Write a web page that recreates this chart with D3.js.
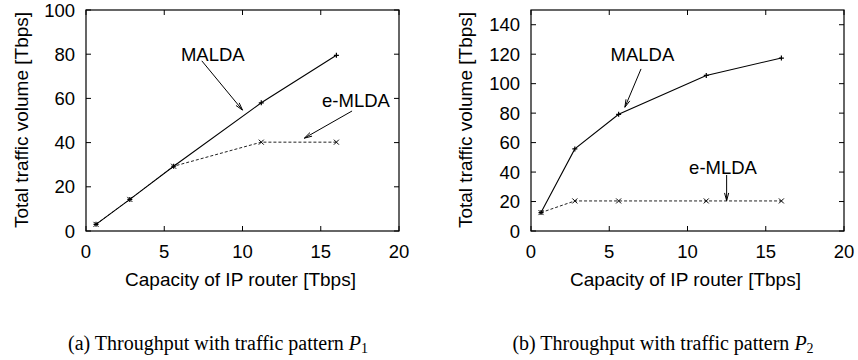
<!DOCTYPE html>
<html>
<head>
<meta charset="utf-8">
<script src="https://cdn.jsdelivr.net/npm/d3@7"></script>
<style>
  body { margin: 0; background: #fff; }
  svg text { font-family: "Liberation Sans", Arial, sans-serif; fill: #000; }
  .caption { font-family: "Liberation Serif", "Times New Roman", serif; }
</style>
</head>
<body>
<svg id="canvas" width="858" height="360"></svg>
<script>
// capacity of IP router [Tbps]
var capacity = [0.64, 2.8, 5.6, 11.2, 16];

// panel (a) traffic pattern P1
var maldaP1 = [3, 14.3, 29.3, 58, 79.5];
var emldaP1 = [3, 14.3, 29.3, 40.2, 40.2];

// panel (b) traffic pattern P2
var maldaP2 = [12.5, 55.7, 79.2, 105.6, 117.4];
var emldaP2 = [12.5, 20.4, 20.4, 20.4, 20.4];

var xTicks = [0, 5, 10, 15, 20];
var yTicksP1 = [0, 20, 40, 60, 80, 100];
var yTicksP2 = [0, 20, 40, 60, 80, 100, 120, 140];

// annotations: label at [x,y], arrow from [x,y] to [x,y] (data units)
var notesP1 = [
  { text: "MALDA",  at: [8.1, 79.8], from: [7.4, 77], to: [10.0, 54.7] },
  { text: "e-MLDA", at: [17.25, 59.3], from: [17.0, 54.3], to: [13.95, 42] }
];
var notesP2 = [
  { text: "MALDA",  at: [7.12, 119.8], from: [7.03, 110], to: [6.0, 84] },
  { text: "e-MLDA", at: [12.27, 43.3], from: [12.5, 38], to: [12.5, 20.6] }
];

var svg = d3.select("#canvas");
var fs = 18.5;

function drawPanel(left, yMax, yTicks, malda, emlda, notes, yTitleX) {
  var x = d3.scaleLinear().domain([0, 20]).range([left, left + 313]);
  var y = d3.scaleLinear().domain([0, yMax]).range([231, 10]);
  var g = svg.append("g");

  // frame
  g.append("rect")
    .attr("x", x(0)).attr("y", y(yMax))
    .attr("width", x(20) - x(0)).attr("height", y(0) - y(yMax))
    .attr("fill", "none").attr("stroke", "#000").attr("stroke-width", 1.2);

  // inward ticks, all four sides
  var tl = 5;
  xTicks.forEach(function(t) {
    g.append("line").attr("x1", x(t)).attr("x2", x(t)).attr("y1", y(0)).attr("y2", y(0) - tl).attr("stroke", "#000");
    g.append("line").attr("x1", x(t)).attr("x2", x(t)).attr("y1", y(yMax)).attr("y2", y(yMax) + tl).attr("stroke", "#000");
    g.append("text").attr("x", x(t)).attr("y", y(0) + 27)
      .attr("text-anchor", "middle").attr("font-size", fs).text(t);
  });
  yTicks.forEach(function(t) {
    g.append("line").attr("x1", x(0)).attr("x2", x(0) + tl).attr("y1", y(t)).attr("y2", y(t)).attr("stroke", "#000");
    g.append("line").attr("x1", x(20)).attr("x2", x(20) - tl).attr("y1", y(t)).attr("y2", y(t)).attr("stroke", "#000");
    g.append("text").attr("x", x(0) - 11).attr("y", y(t)).attr("dy", "0.36em")
      .attr("text-anchor", "end").attr("font-size", fs).text(t);
  });

  // axis titles
  g.append("text").attr("x", x(10) - 2).attr("y", 286)
    .attr("text-anchor", "middle").attr("font-size", 19).text("Capacity of IP router [Tbps]");
  g.append("text").attr("transform", "translate(" + yTitleX + ",120) rotate(-90)")
    .attr("text-anchor", "middle").attr("font-size", 19).text("Total traffic volume [Tbps]");

  var line = d3.line().x(function(d) { return x(d[0]); }).y(function(d) { return y(d[1]); });
  var ptsM = capacity.map(function(c, i) { return [c, malda[i]]; });
  var ptsE = capacity.map(function(c, i) { return [c, emlda[i]]; });

  g.append("path").attr("d", line(ptsE)).attr("fill", "none")
    .attr("stroke", "#222").attr("stroke-width", 1).attr("stroke-dasharray", "3,2");
  g.append("path").attr("d", line(ptsM)).attr("fill", "none")
    .attr("stroke", "#000").attr("stroke-width", 1.1);

  // point markers: + for MALDA, x for e-MLDA
  var s = 2.5;
  ptsM.forEach(function(p) {
    var px = x(p[0]), py = y(p[1]);
    g.append("path").attr("d", "M" + (px - s) + "," + py + "H" + (px + s) + "M" + px + "," + (py - s) + "V" + (py + s))
      .attr("stroke", "#000").attr("stroke-width", 1.2);
  });
  ptsE.forEach(function(p) {
    var px = x(p[0]), py = y(p[1]);
    g.append("path").attr("d", "M" + (px - s) + "," + (py - s) + "L" + (px + s) + "," + (py + s) +
        "M" + (px - s) + "," + (py + s) + "L" + (px + s) + "," + (py - s))
      .attr("stroke", "#000").attr("stroke-width", 1);
  });

  // labels with gnuplot style open arrows
  notes.forEach(function(n) {
    g.append("text").attr("x", x(n.at[0])).attr("y", y(n.at[1])).attr("dy", "0.36em")
      .attr("text-anchor", "middle").attr("font-size", fs).text(n.text);
    var x1 = x(n.from[0]), y1 = y(n.from[1]), x2 = x(n.to[0]), y2 = y(n.to[1]);
    var ang = Math.atan2(y2 - y1, x2 - x1), hl = 8, ha = 15 * Math.PI / 180;
    var d = "M" + x1 + "," + y1 + "L" + x2 + "," + y2 +
      "M" + (x2 - hl * Math.cos(ang - ha)) + "," + (y2 - hl * Math.sin(ang - ha)) + "L" + x2 + "," + y2 +
      "L" + (x2 - hl * Math.cos(ang + ha)) + "," + (y2 - hl * Math.sin(ang + ha));
    g.append("path").attr("d", d).attr("fill", "none").attr("stroke", "#000").attr("stroke-width", 1);
  });
}

drawPanel(86, 100, yTicksP1, maldaP1, emldaP1, notesP1, 28);
drawPanel(531, 150, yTicksP2, maldaP2, emldaP2, notesP2, 472);

// captions
function caption(cx, label, sub) {
  var t = svg.append("text").attr("class", "caption").attr("x", cx).attr("y", 350)
    .attr("text-anchor", "middle").attr("font-size", 20);
  t.append("tspan").text(label);
  t.append("tspan").attr("font-style", "italic").text("P");
  t.append("tspan").attr("font-size", 14).attr("dy", 3).text(sub);
}
caption(218, "(a) Throughput with traffic pattern ", "1");
caption(663, "(b) Throughput with traffic pattern ", "2");
</script>
</body>
</html>
